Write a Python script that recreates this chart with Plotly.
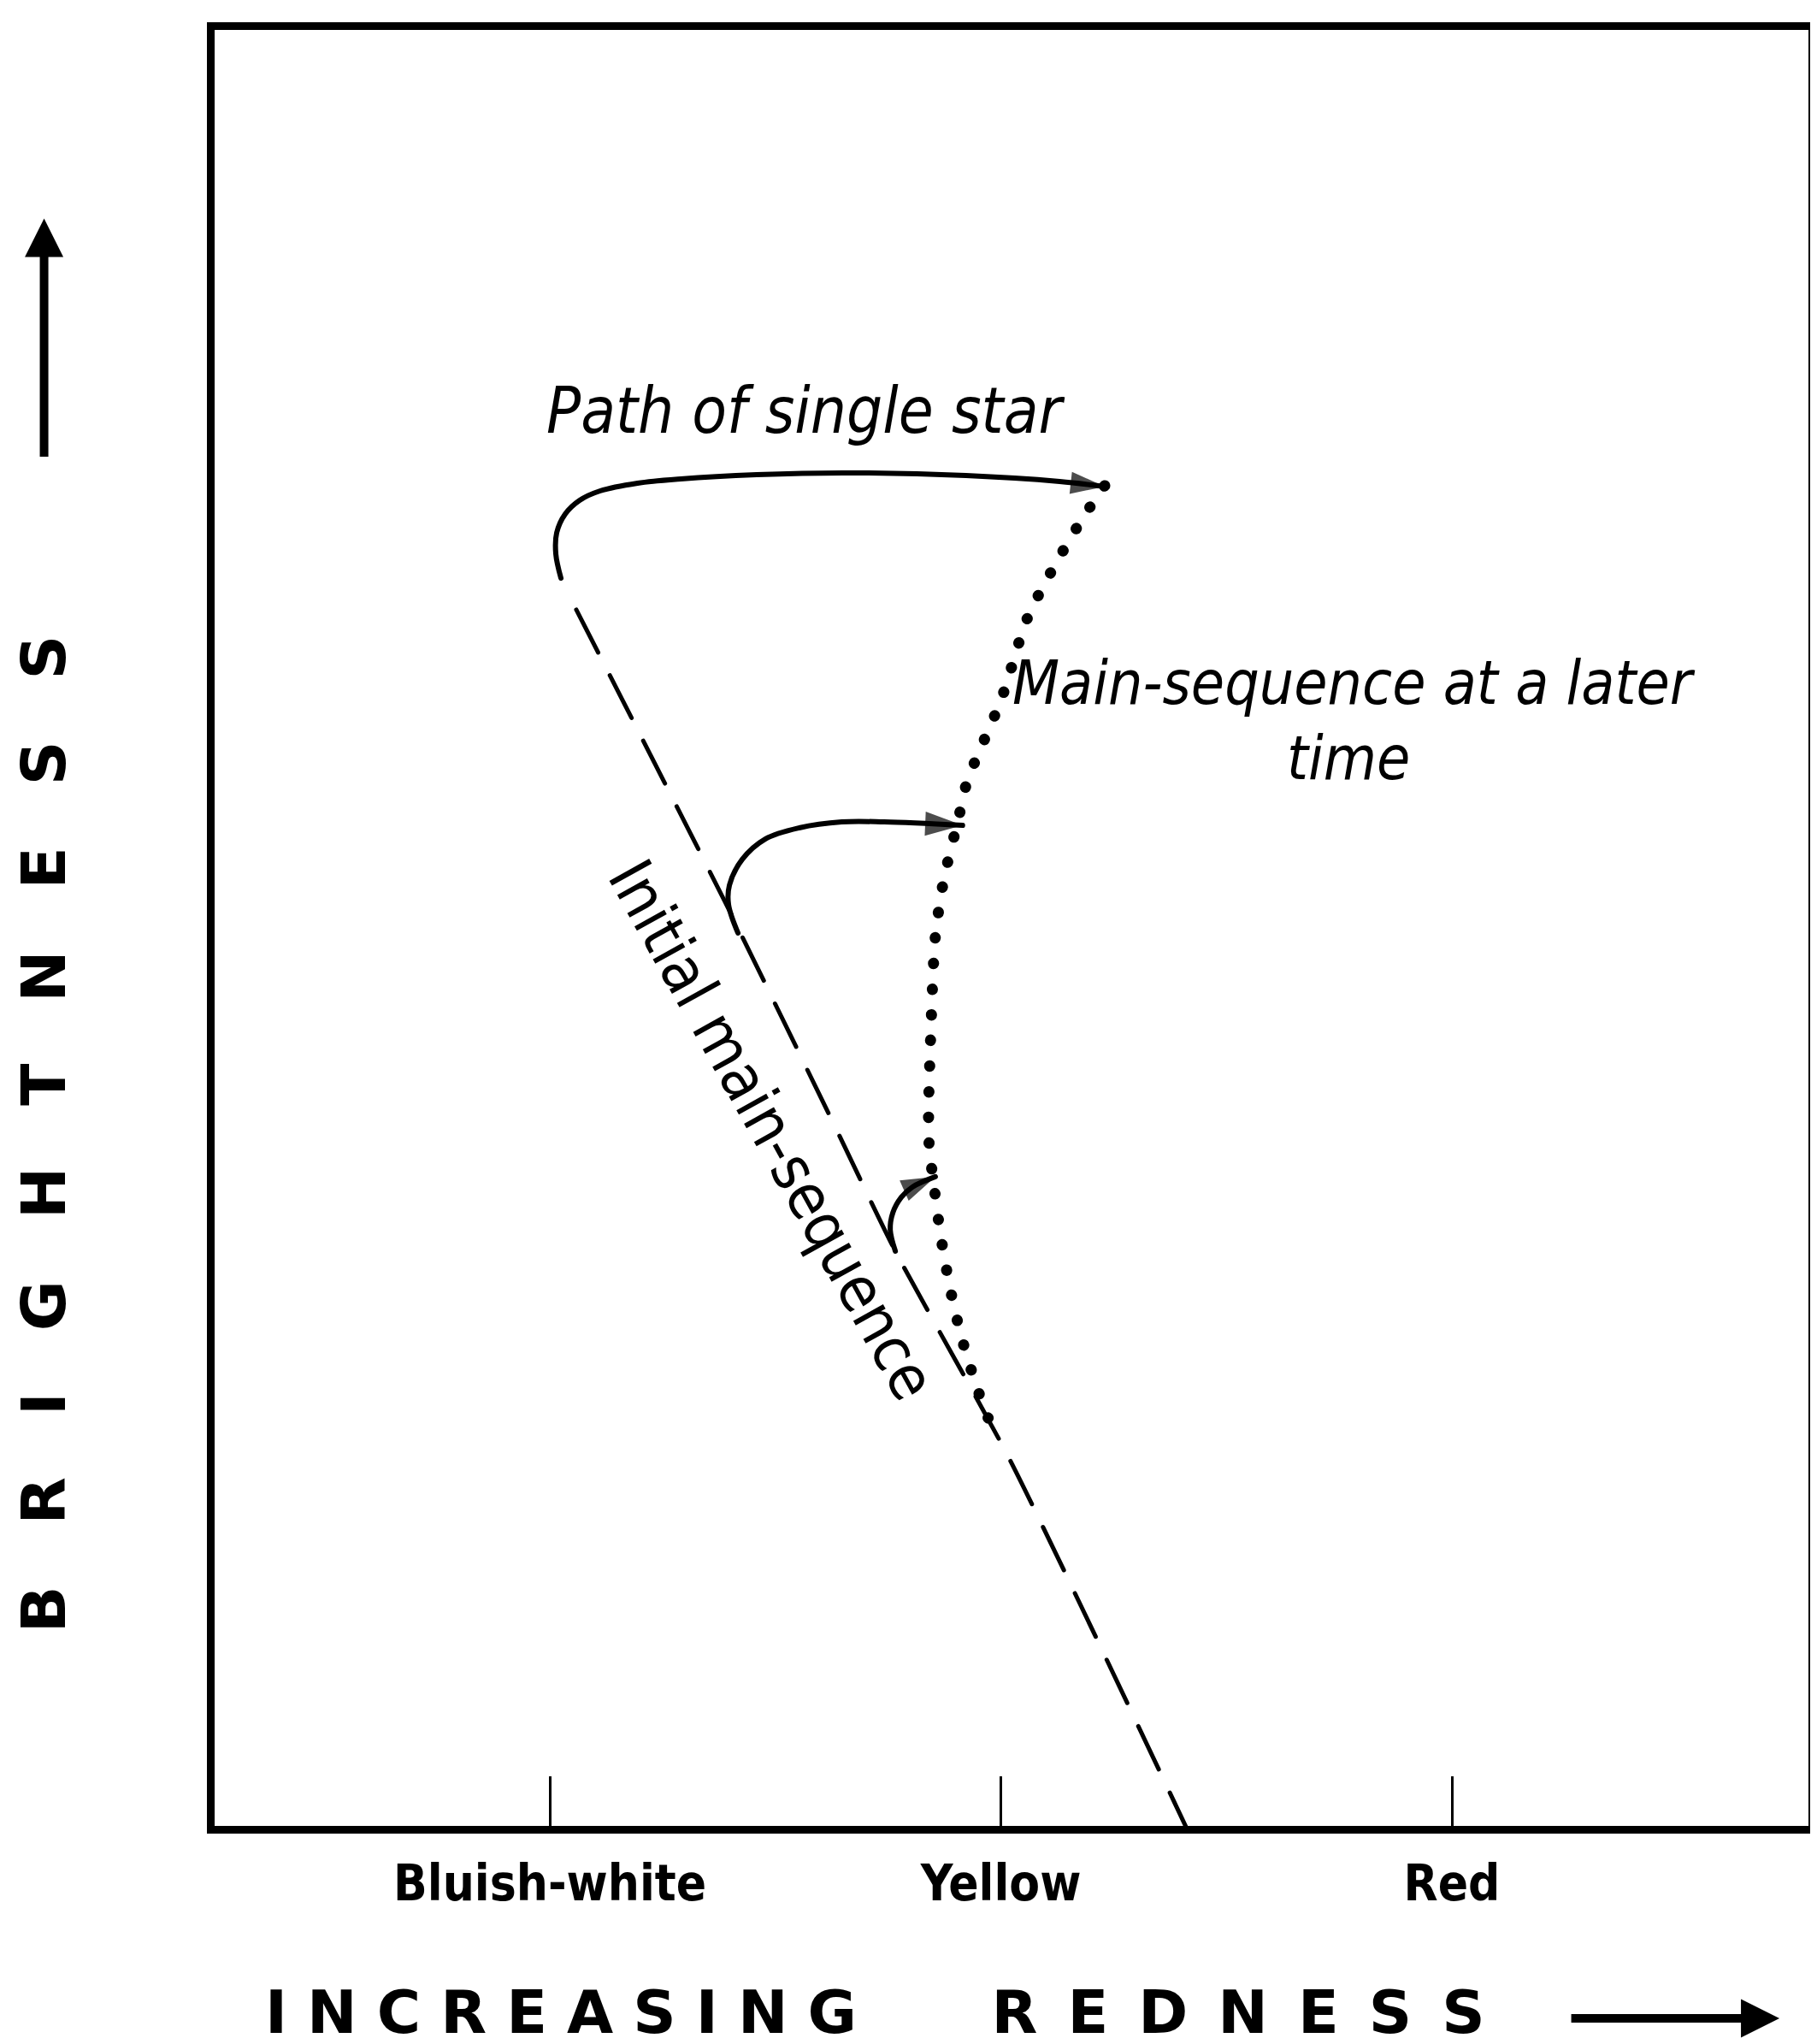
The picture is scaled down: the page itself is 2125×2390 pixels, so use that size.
import plotly.graph_objects as go

# ---- data (x: colour index, 1=Bluish-white, 2=Yellow, 3=Red ; y: brightness, arbitrary units) ----
color_ticks = [1, 2, 3]
color_labels = ["Bluish-white", "Yellow", "Red"]

# Initial main-sequence (dashed)
ims_x = [1.0585, 1.3868, 1.6283, 1.7660, 2.0190, 2.4130]
ims_y = [6.765, 5.152, 3.918, 3.207, 2.054, 0.0]

# Main-sequence at a later time (dotted)
lms_x = [2.2302, 2.1811, 2.1151, 2.0585, 2.0019, 1.9245, 1.9057, 1.8736, 1.8547,
         1.8453, 1.8396, 1.8415, 1.8491, 1.8660, 1.8868, 1.9113, 1.9453, 1.9717]
lms_y = [7.453, 7.272, 6.992, 6.717, 6.276, 5.806, 5.603, 5.270, 4.953,
         4.469, 3.961, 3.767, 3.620, 3.302, 3.008, 2.742, 2.462, 2.282]

# Paths of single stars (solid, with arrow)
path1_x = [1.0245, 1.0132, 1.0151, 1.0340, 1.0660, 1.1113, 1.1943, 1.2906, 1.4585, 1.6528, 1.9226, 2.1302, 2.2302]
path1_y = [6.940, 7.073, 7.192, 7.296, 7.372, 7.424, 7.467, 7.491, 7.514, 7.524, 7.509, 7.476, 7.448]
path2_x = [1.4170, 1.3962, 1.3981, 1.4264, 1.4774, 1.5528, 1.6472, 1.7415, 1.9151]
path2_y = [4.972, 5.128, 5.237, 5.380, 5.493, 5.555, 5.588, 5.588, 5.569]
path3_x = [1.7660, 1.7547, 1.7604, 1.7792, 1.8038, 1.8547]
path3_y = [3.207, 3.325, 3.420, 3.506, 3.563, 3.620]

NARROW = "Liberation Sans Narrow, Arial Narrow, DejaVu Sans Condensed, Roboto Condensed, Liberation Sans, sans-serif"
WIDE = "DejaVu Sans, Verdana, sans-serif"

fig = go.Figure()

fig.add_trace(go.Scatter(x=ims_x, y=ims_y, mode="lines",
                         line=dict(color="black", width=5, dash="56px,30px", shape="spline", smoothing=0.6),
                         hoverinfo="skip"))
fig.add_trace(go.Scatter(x=lms_x, y=lms_y, mode="lines",
                         line=dict(color="black", width=13, dash="0.5px,29.5px", shape="spline", smoothing=0.8),
                         hoverinfo="skip"))

for px_, py_, sz in [(path1_x, path1_y, 42), (path2_x, path2_y, 46), (path3_x, path3_y, 42)]:
    n = len(px_)
    fig.add_trace(go.Scatter(
        x=px_, y=py_, mode="lines+markers",
        line=dict(color="black", width=6, shape="spline", smoothing=1.0),
        marker=dict(symbol=["circle"] * (n - 1) + ["arrow"], size=[0] * (n - 1) + [sz],
                    angleref="previous", color="black", line=dict(width=0)),
        hoverinfo="skip"))

fig.update_layout(
    width=2125, height=2390,
    margin=dict(l=243, r=9, t=27, b=263),
    plot_bgcolor="white", paper_bgcolor="white",
    showlegend=False,
)
fig.update_xaxes(range=[0.2566, 3.7906], showline=True, mirror=True, linecolor="black", linewidth=9,
                 showgrid=False, zeroline=False, tickmode="array", tickvals=color_ticks, ticktext=color_labels,
                 ticks="inside", ticklen=58, tickwidth=3, tickcolor="black",
                 tickfont=dict(family=NARROW, size=58, color="black", weight="bold"),
                 ticklabelstandoff=8)
fig.update_yaxes(range=[0.019, 9.981], showline=True, mirror=True, linecolor="black", linewidth=9,
                 showgrid=False, zeroline=False, showticklabels=False, ticks="")

ann_font_it = dict(family=NARROW, size=74, color="black", style="italic")
fig.add_annotation(x=1.566, y=7.87, xref="x", yref="y", text="Path of single star",
                   showarrow=False, font=ann_font_it)
fig.add_annotation(x=2.783, y=6.36, xref="x", yref="y", text="Main-sequence at a later",
                   showarrow=False, font=dict(family=NARROW, size=71, color="black", style="italic"))
fig.add_annotation(x=2.770, y=5.94, xref="x", yref="y", text="time",
                   showarrow=False, font=dict(family=NARROW, size=71, color="black", style="italic"))
fig.add_annotation(x=1.494, y=3.88, xref="x", yref="y", text="Initial main-sequence",
                   showarrow=False, textangle=61, font=dict(family=NARROW, size=73, color="black"))

EM = "\u2003"
TS = "\u2004"
EN = "\u2002"
fig.add_annotation(x=-0.1072, y=0.3852, xref="paper", yref="paper", xanchor="center", yanchor="middle",
                   text=EM.join("BRIGHTNESS"), textangle=-90, showarrow=False,
                   font=dict(family=WIDE, size=72, color="black", weight="bold"))
fig.add_annotation(x=0.0304, y=-0.104, xref="paper", yref="paper", xanchor="left", yanchor="middle",
                   text=TS.join("INCREASING") + EM + EM + "\u2005" + EN.join("REDNESS"), showarrow=False,
                   font=dict(family=WIDE, size=70, color="black", weight="bold"))

# axis direction arrows
fig.add_annotation(x=0.9818, y=-0.1071, xref="paper", yref="paper", ax=-245, ay=0,
                   text="", showarrow=True, arrowhead=2, arrowsize=0.9, arrowwidth=10, arrowcolor="black",
                   standoff=0)
fig.add_annotation(x=-0.1070, y=0.8950, xref="paper", yref="paper", ax=0, ay=280,
                   text="", showarrow=True, arrowhead=2, arrowsize=0.9, arrowwidth=10, arrowcolor="black",
                   standoff=0)

post = ("var s=document.createElement('style');"
        "s.textContent='.scatterlayer path.js-line{stroke-linecap:round !important;stroke-linejoin:round;}';"
        "document.head.appendChild(s);")
fig.write_html("out.html", post_script=post)
